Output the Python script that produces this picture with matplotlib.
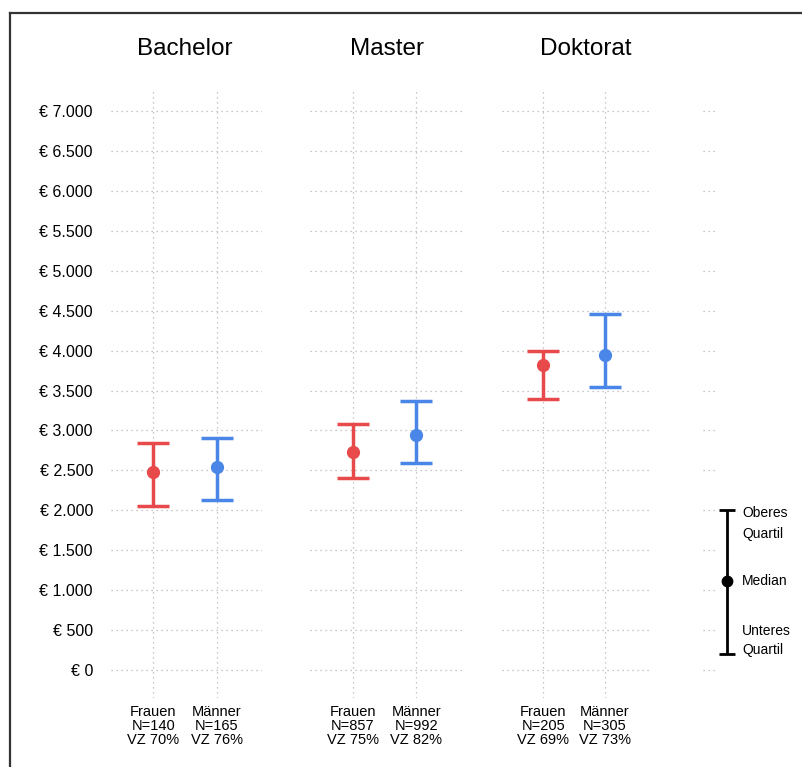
import matplotlib.pyplot as plt
from matplotlib.lines import Line2D
import matplotlib.transforms as mtransforms

plt.rcParams['font.family'] = ['Liberation Sans', 'DejaVu Sans']

# Einstiegsgehalt nach Abschluss und Geschlecht (Median, Quartile)
degrees = ['Bachelor', 'Master', 'Doktorat']
groups = ['Frauen', 'Männer']
n_counts = [[140, 165], [857, 992], [205, 305]]
vz_pct = [[70, 76], [75, 82], [69, 73]]
median = [[2480, 2540], [2730, 2940], [3820, 3950]]
q1 = [[2050, 2130], [2400, 2590], [3390, 3540]]
q3 = [[2840, 2910], [3080, 3370], [4000, 4460]]
y_ticks = list(range(0, 7001, 500))

# Legende: Oberes Quartil, Median, Unteres Quartil
legend_vals = [2000, 1115, 200]

colors = ['#E84A4C', '#4A86E8']
grid_kw = dict(color='#b5b5b5', linestyle=(0, (1, 3)), linewidth=0.9)

W, H = 802, 767
fig = plt.figure(figsize=(W / 100, H / 100), dpi=100)


def px_axes(x0, x1, y0, y1):
    return fig.add_axes([x0 / W, 1 - y1 / H, (x1 - x0) / W, (y1 - y0) / H])


panel_px = [(111, 262), (310, 462), (502, 649)]
title_x = [185, 387, 586]
ylim = (-351, 7276)

for i, deg in enumerate(degrees):
    ax = px_axes(*panel_px[i], 89, 698)
    ax.set_xlim(0.33, 2.72)
    ax.set_ylim(*ylim)
    for s in ax.spines.values():
        s.set_visible(False)
    ax.set_xticks([1, 2])
    ax.set_xticklabels([f'{g}\nN={n}\nVZ {p}%' for g, n, p in
                        zip(groups, n_counts[i], vz_pct[i])],
                       fontsize=10.5, linespacing=1.0)
    ax.set_yticks(y_ticks)
    if i == 0:
        ax.set_yticklabels([f'€ {v:,}'.replace(',', '.') for v in y_ticks],
                           fontsize=11.5)
    else:
        ax.set_yticklabels([])
    ax.tick_params(length=0, axis='y', pad=13)
    ax.tick_params(length=0, axis='x', pad=5)
    ax.grid(True, **grid_kw)
    ax.set_axisbelow(True)
    for j in range(2):
        med = median[i][j]
        ax.errorbar([j + 1], [med],
                    yerr=[[med - q1[i][j]], [q3[i][j] - med]],
                    fmt='o', color=colors[j], markersize=8.5,
                    elinewidth=2.5, capsize=11.5, capthick=2.5)
    fig.text(title_x[i] / W, 1 - 49 / H, deg, fontsize=17.5,
             ha='center', va='center')

# schmales Legendenpanel rechts
lax = px_axes(703, 716, 89, 698)
lax.set_xlim(0, 1)
lax.set_ylim(*ylim)
for s in lax.spines.values():
    s.set_visible(False)
lax.set_xticks([])
lax.set_yticks(y_ticks)
lax.set_yticklabels([])
lax.tick_params(length=0)
lax.grid(True, axis='y', **grid_kw)

trans = mtransforms.blended_transform_factory(lax.transAxes, lax.transData)
lx = (727 - 703) / 13
lax.errorbar([lx], [legend_vals[1]],
             yerr=[[legend_vals[1] - legend_vals[2]],
                   [legend_vals[0] - legend_vals[1]]],
             fmt='o', color='black', markersize=7.5, elinewidth=2,
             capsize=5.5, capthick=2, transform=trans, clip_on=False)

# Beschriftung: (Text, Bezugswert, Versatz in Pixeln nach unten)
tx = (742 - 703) / 13
labels = [('Oberes', legend_vals[0], 3), ('Quartil', legend_vals[0], 24),
          ('Median', legend_vals[1], 0),
          ('Unteres', legend_vals[2], -23), ('Quartil', legend_vals[2], -4)]
for t, v, dy in labels:
    lax.annotate(t, xy=(tx, v), xycoords=trans,
                 xytext=(0, -dy * 72 / 100), textcoords='offset points',
                 fontsize=10, va='center', ha='left')

# Rahmen oben und links
fig.add_artist(Line2D([10 / W, 10 / W], [0, 1 - 13 / H],
                      color='#333333', linewidth=1.6))
fig.add_artist(Line2D([10 / W, 1], [1 - 13 / H, 1 - 13 / H],
                      color='#333333', linewidth=1.6))

fig.savefig('out.png', dpi=100)
